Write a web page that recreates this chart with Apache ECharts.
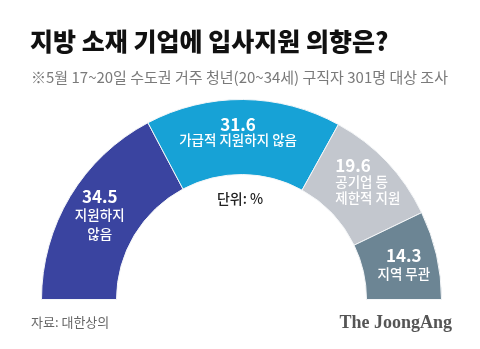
<!DOCTYPE html>
<html>
<head>
<meta charset="utf-8">
<script src="https://cdn.jsdelivr.net/npm/echarts@6/dist/echarts.min.js"></script>
<style>
html,body{margin:0;padding:0;background:#fff;}
#c{width:480px;height:349px;}
</style>
</head>
<body>
<div id="c"></div>
<script>
const categories = ['지원하지\n않음', '가급적 지원하지 않음', '공기업 등\n제한적 지원', '지역 무관'];
const values = [34.5, 31.6, 19.6, 14.3];
const titleText = '지방 소재 기업에 입사지원 의향은?';
const subtitleText = '※5월 17~20일 수도권 거주 청년(20~34세) 구직자 301명 대상 조사';
const unitText = '단위: %';
const sourceText = '자료: 대한상의';
const brandText = 'The JoongAng';

const colors = ['#3a44a0', '#17a2d6', '#c3c7ce', '#6c8594'];
const lineHeights = [19, 15, 16.5, 19];
const labelOffsets = [[0, 1], [-5, -2], [6, -4], [1, 2]];
const lineAlign = ['center', 'center', 'left', 'center'];
const FONT = '"Noto Sans CJK KR", "Noto Sans", sans-serif';

const chart = echarts.init(document.getElementById('c'), null, {renderer: 'canvas'});

const data = categories.map((name, i) => ({
  name: name,
  value: values[i],
  itemStyle: {color: colors[i]},
  label: {
    offset: labelOffsets[i],
    rich: {
      v: {fontSize: 17, fontWeight: 'bold', color: '#fff', lineHeight: lineHeights[i], align: lineAlign[i], fontFamily: FONT},
      n: {fontSize: 13.5, fontWeight: 500, color: '#fff', lineHeight: lineHeights[i], align: lineAlign[i], fontFamily: FONT}
    }
  }
}));

chart.setOption({
  backgroundColor: '#fff',
  animation: false,
  series: [{
    type: 'pie',
    center: [241.5, 299.5],
    radius: [125, 200],
    startAngle: 180,
    endAngle: 0,
    clockwise: true,
    silent: true,
    itemStyle: {borderColor: '#f4f6f8', borderWidth: 1},
    labelLine: {show: false},
    label: {
      show: true,
      position: 'inside',
      formatter: function (p) {
        return p.name.split('\n').reduce(function (acc, line) {
          return acc + '\n{n|' + line + '}';
        }, '{v|' + p.value + '}');
      }
    },
    data: data
  }],
  graphic: [
    {type: 'text', x: 30, y: 41, style: {text: titleText, font: '900 25px ' + FONT, fill: '#111', verticalAlign: 'middle'}},
    {type: 'text', x: 31, y: 77.5, style: {text: subtitleText, font: '15px ' + FONT, fill: '#7a7a7a', verticalAlign: 'middle'}},
    {type: 'text', x: 240, y: 199, style: {text: unitText, font: '500 14px ' + FONT, fill: '#222', align: 'center', verticalAlign: 'middle'}},
    {type: 'text', x: 31, y: 322.5, style: {text: sourceText, font: '13px ' + FONT, fill: '#666', verticalAlign: 'middle'}},
    {type: 'text', x: 452, y: 323, style: {text: brandText, font: 'bold 18px "Liberation Serif", "DejaVu Serif", serif', fill: '#555', align: 'right', verticalAlign: 'middle'}}
  ]
});
</script>
</body>
</html>
